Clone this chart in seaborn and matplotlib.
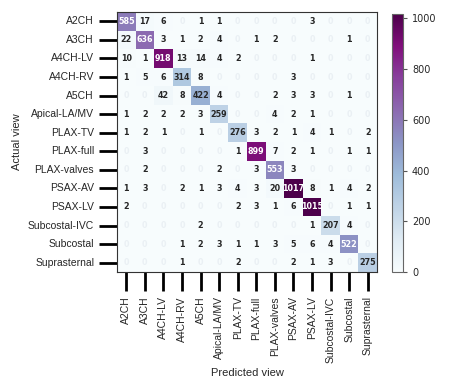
import numpy as np
import pandas as pd
import seaborn as sns
import matplotlib
matplotlib.use("Agg")
import matplotlib.pyplot as plt

views = ["A2CH", "A3CH", "A4CH-LV", "A4CH-RV", "A5CH", "Apical-LA/MV", "PLAX-TV",
         "PLAX-full", "PLAX-valves", "PSAX-AV", "PSAX-LV", "Subcostal-IVC",
         "Subcostal", "Suprasternal"]

row_A2CH = [585, 17, 6, 0, 1, 1, 0, 0, 0, 0, 3, 0, 0, 0]
row_A3CH = [22, 636, 3, 1, 2, 4, 0, 1, 2, 0, 0, 0, 1, 0]
row_A4CH_LV = [10, 1, 918, 13, 14, 4, 2, 0, 0, 0, 1, 0, 0, 0]
row_A4CH_RV = [1, 5, 6, 314, 8, 0, 0, 0, 0, 3, 0, 0, 0, 0]
row_A5CH = [0, 0, 42, 8, 422, 4, 0, 0, 2, 3, 3, 0, 1, 0]
row_Apical = [1, 2, 2, 2, 3, 259, 0, 0, 4, 2, 1, 0, 0, 0]
row_PLAX_TV = [1, 2, 1, 0, 1, 0, 276, 3, 2, 1, 4, 1, 0, 2]
row_PLAX_full = [0, 3, 0, 0, 0, 0, 1, 899, 7, 2, 1, 0, 1, 1]
row_PLAX_valves = [0, 2, 0, 0, 0, 2, 0, 3, 553, 3, 0, 0, 0, 0]
row_PSAX_AV = [1, 3, 0, 2, 1, 3, 4, 3, 20, 1017, 8, 1, 4, 2]
row_PSAX_LV = [2, 0, 0, 0, 0, 0, 2, 3, 1, 6, 1015, 0, 1, 1]
row_Subcostal_IVC = [0, 0, 0, 0, 2, 0, 0, 0, 0, 0, 1, 207, 4, 0]
row_Subcostal = [0, 0, 0, 1, 2, 3, 1, 1, 3, 5, 6, 4, 522, 0]
row_Suprasternal = [0, 0, 0, 1, 0, 0, 2, 0, 0, 2, 1, 3, 0, 275]

rows = [row_A2CH, row_A3CH, row_A4CH_LV, row_A4CH_RV, row_A5CH, row_Apical,
        row_PLAX_TV, row_PLAX_full, row_PLAX_valves, row_PSAX_AV, row_PSAX_LV,
        row_Subcostal_IVC, row_Subcostal, row_Suprasternal]

df = pd.DataFrame(rows, index=views, columns=views)

sns.set_style("ticks")
plt.rcParams['font.family'] = ['Liberation Sans', 'DejaVu Sans']

fig = plt.figure(figsize=(4.49, 3.80), dpi=100)
ax = fig.add_axes([117/449, 1 - 272/380, 260/449, 260/380])
cax = fig.add_axes([392/449, 1 - 272/380, 11/449, 258/380])

sns.heatmap(df, ax=ax, cbar_ax=cax, cmap="BuPu", vmin=0, vmax=1017,
            annot=True, fmt="d",
            annot_kws={"fontsize": 5.8, "fontweight": "bold", "family": "DejaVu Sans"},
            linewidths=0, square=False)

for t in ax.texts:
    if t.get_text() == "0":
        t.set_color("#eaf0f4")

for sp in ax.spines.values():
    sp.set_visible(True)
    sp.set_color("#333333")
    sp.set_linewidth(0.8)

ax.tick_params(axis="both", length=14, width=2, color="black", labelsize=7.5)
ax.tick_params(axis="y", length=13)
ax.set_xticklabels(views, rotation=90)
ax.set_yticklabels(views, rotation=0)
ax.set_xlabel("Predicted view", fontsize=8)
ax.set_ylabel("Actual view", fontsize=8)

cax.tick_params(labelsize=7, length=3, width=0.8, color="#555555")
for lab in cax.get_yticklabels():
    lab.set_family("DejaVu Sans")
cax.set_yticks([0, 200, 400, 600, 800, 1000])
cbar = ax.collections[0].colorbar
cbar.outline.set_visible(True)
cbar.outline.set_edgecolor("#666666")
cbar.outline.set_linewidth(0.8)

fig.savefig("out.png", dpi=100)
